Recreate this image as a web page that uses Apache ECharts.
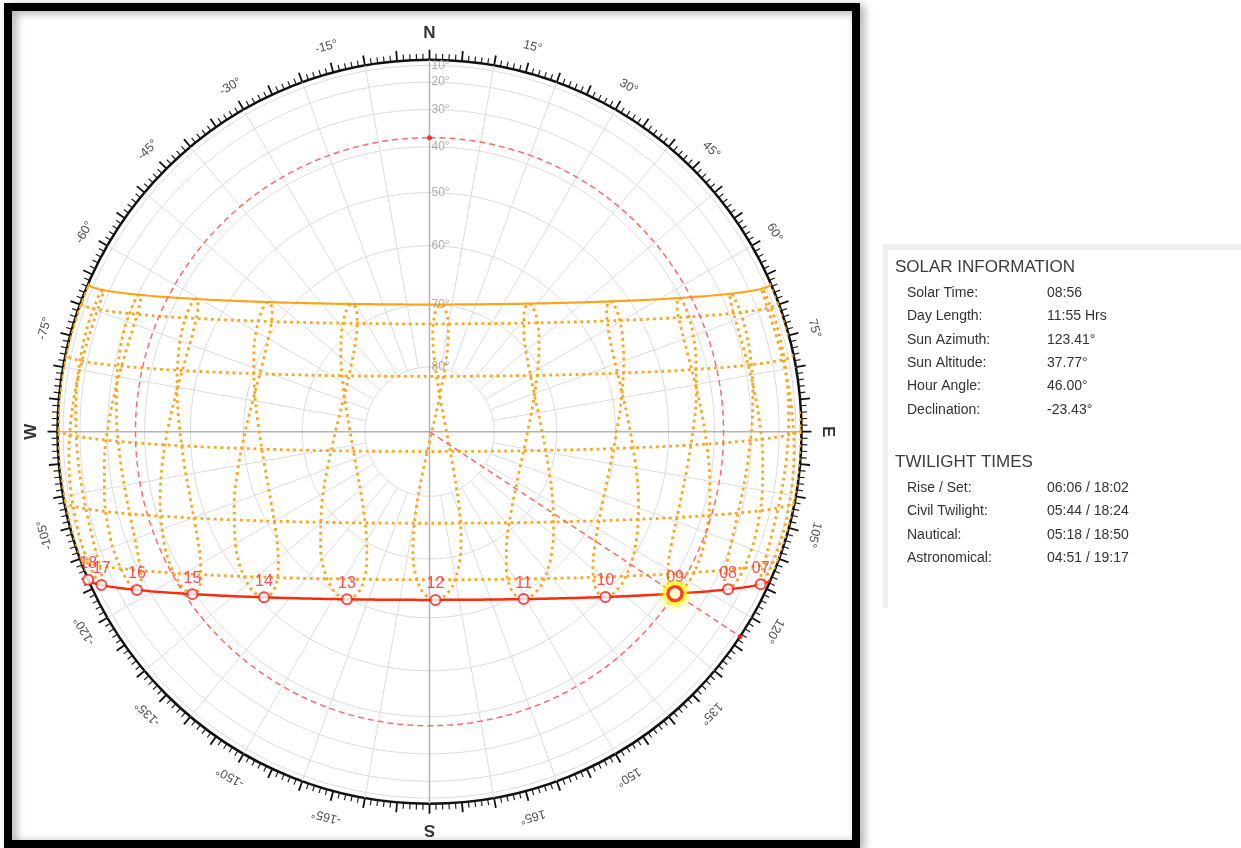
<!DOCTYPE html>
<html>
<head>
<meta charset="utf-8">
<script src="https://cdn.jsdelivr.net/npm/echarts@6/dist/echarts.min.js"></script>
<style>
  html, body { margin: 0; padding: 0; background: #fff; }
  #chart { width: 1241px; height: 848px; }
</style>
</head>
<body>
<div id="chart"></div>
<script>
// ---- Site and moment ----
const latitude = 3.45;              // degrees north
const todayDecl = -23.43;           // declination today
const clockToSolarMin = -4;         // solar time = clock time - 4 min today
const longitudeCorrMin = -5.8;      // clock -> mean solar correction (min)
const sunAzimuth = 123.41;
const sunAltitude = 37.77;

// ---- Hour markers on today's path ----
const hourMarks  = [7, 8, 9, 10, 11, 12, 13, 14, 15, 16, 17, 18];
const hourLabels = ['07', '08', '09', '10', '11', '12', '13', '14', '15', '16', '17', '18'];

// ---- Seasonal day paths ----
const solsticeDecl = 23.44;                       // solid orange path
const monthDecl = [20.3, 12.0, 0.4, -10.8, -20.0]; // dotted month paths

// ---- Analemma (hourly) lines: declination and equation of time over the year ----
const analemmaHours = [6, 7, 8, 9, 10, 11, 12, 13, 14, 15, 16, 17, 18];
const analemmaDates = ['01-01', '01-15', '02-01', '02-11', '02-15', '03-01', '03-15', '04-01', '04-15',
  '05-01', '05-14', '06-01', '06-13', '06-21', '07-01', '07-15', '07-26', '08-01', '08-15',
  '09-01', '09-15', '10-01', '10-15', '11-03', '11-15', '12-01', '12-15', '12-21'];
const analemmaDecl = [-23.0, -21.2, -17.2, -14.1, -12.7, -7.8, -2.4, 4.4, 9.7,
  15.0, 18.7, 22.0, 23.2, 23.44, 23.1, 21.6, 19.5, 18.0, 14.0,
  8.4, 3.1, -3.1, -8.5, -15.1, -18.5, -21.8, -23.3, -23.44];
const analemmaEoT = [-3.3, -9.2, -13.5, -14.2, -14.1, -12.4, -9.0, -4.0, -0.1,
  2.9, 3.7, 2.2, 0.0, -1.6, -3.8, -5.9, -6.5, -6.3, -4.4,
  -0.1, 4.7, 10.2, 14.1, 16.4, 15.4, 11.0, 4.9, 1.9];

// ---- Grid ----
const altitudeRings = [10, 20, 30, 40, 50, 60, 70, 80];
const ringLabels = ['10°', '20°', '30°', '40°', '50°', '60°', '70°', '80°'];
const spokeAngles = [10, 20, 30, 40, 50, 60, 70, 80, 100, 110, 120, 130, 140, 150, 160, 170,
  190, 200, 210, 220, 230, 240, 250, 260, 280, 290, 300, 310, 320, 330, 340, 350];
const azimuthLabels = [15, 30, 45, 60, 75, 105, 120, 135, 150, 165,
  -15, -30, -45, -60, -75, -105, -120, -135, -150, -165];
const cardinalAngles = [0, 90, 180, -90];
const cardinalLabels = ['N', 'E', 'S', 'W'];

// ---- Info panel ----
const solarInfo = [
  ['Solar Time:', '08:56'],
  ['Day Length:', '11:55 Hrs'],
  ['Sun Azimuth:', '123.41°'],
  ['Sun Altitude:', '37.77°'],
  ['Hour Angle:', '46.00°'],
  ['Declination:', '-23.43°']
];
const twilightInfo = [
  ['Rise / Set:', '06:06 / 18:02'],
  ['Civil Twilight:', '05:44 / 18:24'],
  ['Nautical:', '05:18 / 18:50'],
  ['Astronomical:', '04:51 / 19:17']
];

// ---------------------------------------------------------------
const D = Math.PI / 180;
const HORIZON = -0.833;
const FONT = '"Liberation Sans", Arial, sans-serif';

// hour angle + declination -> [radius (cos alt), azimuth from north, altitude]
function horizontal(H, dec) {
  const p = latitude * D, d = dec * D, h = H * D;
  const sinAlt = Math.sin(p) * Math.sin(d) + Math.cos(p) * Math.cos(d) * Math.cos(h);
  const alt = Math.asin(sinAlt);
  const y = -Math.cos(d) * Math.sin(h);
  const x = Math.sin(d) * Math.cos(p) - Math.cos(d) * Math.sin(p) * Math.cos(h);
  let az = Math.atan2(y, x) / D;
  if (az < 0) az += 360;
  return [Math.cos(alt), az, alt / D];
}
const altAz = (alt, az) => [Math.cos(alt * D), (az + 360) % 360];

function segments(points) {
  const out = [];
  let cur = [];
  points.forEach(p => {
    if (p[2] >= HORIZON) cur.push([p[0], p[1]]);
    else if (cur.length) { out.push(cur); cur = []; }
  });
  if (cur.length) out.push(cur);
  return out;
}

function line(data, style, z, extra) {
  return Object.assign({
    type: 'line', coordinateSystem: 'polar', data, symbol: 'none',
    silent: true, animation: false, clip: false, lineStyle: style, z
  }, extra || {});
}

const series = [];

// altitude rings
const gridStyle = { color: '#dcdcdc', width: 1 };
altitudeRings.forEach(a => {
  const pts = [];
  for (let t = 0; t <= 360; t += 2) pts.push(altAz(a, t));
  series.push(line(pts, gridStyle, 1));
});
// azimuth spokes
spokeAngles.forEach(a => {
  series.push(line([altAz(80, a), altAz(0, a)], gridStyle, 1));
});
// main N-S / E-W axes
const axisStyle = { color: '#b5b5b5', width: 1.5 };
series.push(line([altAz(0, 0), altAz(90, 0), altAz(0, 180)], axisStyle, 1));
series.push(line([altAz(0, 90), altAz(90, 90), altAz(0, 270)], axisStyle, 1));

// dotted month paths
const dotStyle = { color: '#ffa51f', width: 2.8, type: [2.8, 3.8] };
function dayPath(dec) {
  const pts = [];
  for (let H = -110; H <= 110; H += 0.5) pts.push(horizontal(H, dec));
  return segments(pts);
}
monthDecl.forEach(dec => {
  dayPath(dec).forEach(seg => series.push(line(seg, dotStyle, 3)));
});

// analemma loops, one per clock hour
analemmaHours.forEach(hr => {
  const pts = analemmaDecl.map((dec, i) => {
    const H = (hr - 12 + (analemmaEoT[i] + longitudeCorrMin) / 60) * 15;
    return horizontal(H, dec);
  });
  pts.push(pts[0]);
  segments(pts).forEach(seg => series.push(line(seg, dotStyle, 3, { smooth: 0.35 })));
});

// solstice path (solid orange)
dayPath(solsticeDecl).forEach(seg =>
  series.push(line(seg, { color: '#ffa31a', width: 2.2 }, 4)));

// current-altitude dashed circle and azimuth ray
const dashStyle = { color: '#ff6b6b', width: 1.5, type: [6, 4] };
{
  const pts = [];
  for (let t = 0; t <= 360; t += 2) pts.push(altAz(sunAltitude, t));
  series.push(line(pts, dashStyle, 5));
  series.push(line([altAz(90, sunAzimuth), altAz(0, sunAzimuth)], dashStyle, 5));
}

// today's path (solid red)
dayPath(todayDecl).forEach(seg =>
  series.push(line(seg, { color: '#ff2a0a', width: 2.5 }, 6)));

// small red dots on the dashed guides
series.push({
  type: 'scatter', coordinateSystem: 'polar', silent: true, animation: false, clip: false, z: 7,
  symbolSize: 5, itemStyle: { color: '#ee1111' },
  data: [altAz(sunAltitude, 0), altAz(0, sunAzimuth)]
});

// hour markers
series.push({
  type: 'scatter', coordinateSystem: 'polar', silent: true, animation: false, clip: false, z: 8,
  symbol: 'circle', symbolSize: 10,
  itemStyle: { color: '#ffffff', borderColor: '#ff1a1a', borderWidth: 2 },
  label: { show: true, position: 'top', distance: 2, formatter: '{b}', color: '#ff1f2f',
           fontSize: 16, fontFamily: FONT },
  data: hourMarks.map((t, i) => {
    const H = (t - 12 + clockToSolarMin / 60) * 15;
    const p = horizontal(H, todayDecl);
    return p[2] >= HORIZON ? { name: hourLabels[i], value: [p[0], p[1]] } : null;
  }).filter(Boolean)
});

// sun position with glow
series.push({
  type: 'scatter', coordinateSystem: 'polar', silent: true, animation: false, clip: false, z: 9,
  symbolSize: 24,
  itemStyle: { color: 'rgba(255,255,30,0.9)', shadowColor: 'rgba(255,255,0,1)', shadowBlur: 10 },
  data: [altAz(sunAltitude, sunAzimuth)]
});
series.push({
  type: 'scatter', coordinateSystem: 'polar', silent: true, animation: false, clip: false, z: 10,
  symbolSize: 14,
  itemStyle: { color: '#ffffff', borderColor: '#ff1010', borderWidth: 3.4 },
  data: [altAz(sunAltitude, sunAzimuth)]
});

// altitude ring labels
series.push({
  type: 'scatter', coordinateSystem: 'polar', silent: true, animation: false, clip: false, z: 11,
  symbolSize: 0,
  label: { show: true, position: 'right', distance: 2, formatter: '{b}', color: '#999',
           fontSize: 12, fontFamily: FONT },
  data: altitudeRings.map((a, i) => ({ name: ringLabels[i], value: altAz(a, 0) }))
});

// azimuth degree labels round the rim
const LABEL_R = 1.071;
series.push({
  type: 'scatter', coordinateSystem: 'polar', silent: true, animation: false, clip: false, z: 11,
  symbolSize: 0,
  label: { show: true, position: 'inside', formatter: '{b}', color: '#222',
           fontSize: 12.5, fontFamily: FONT },
  data: azimuthLabels.map(a => ({
    name: a + '°', value: [LABEL_R, (a + 360) % 360], label: { rotate: -a }
  }))
});
// cardinal letters
series.push({
  type: 'scatter', coordinateSystem: 'polar', silent: true, animation: false, clip: false, z: 11,
  symbolSize: 0,
  label: { show: true, position: 'inside', formatter: '{b}', color: '#000',
           fontSize: 17, fontWeight: 'bold', fontFamily: FONT },
  data: cardinalAngles.map((a, i) => ({
    name: cardinalLabels[i], value: [LABEL_R, (a + 360) % 360], label: { rotate: -a }
  }))
});

// ---- frame and info panel ----
const graphics = [
  { type: 'rect', z: -10, silent: true,
    shape: { x: 8, y: 7, width: 848, height: 837 },
    style: { fill: null, stroke: '#000', lineWidth: 8,
             shadowBlur: 8, shadowColor: 'rgba(0,0,0,0.35)', shadowOffsetX: 4, shadowOffsetY: 2 } },
  { type: 'rect', silent: true, shape: { x: 883, y: 244, width: 358, height: 6 }, style: { fill: '#efefef' } },
  { type: 'rect', silent: true, shape: { x: 883, y: 244, width: 5, height: 364 }, style: { fill: '#efefef' } }
];
function addText(x, y, text, size, color) {
  graphics.push({ type: 'text', silent: true, x, y,
    style: { text, fontSize: size, fontFamily: FONT, fill: color, verticalAlign: 'middle', align: 'left' } });
}
addText(895, 267, 'SOLAR INFORMATION', 17, '#3c3c3c');
solarInfo.forEach((r, i) => {
  addText(907, 293.3 + i * 23.33, r[0], 14, '#333');
  addText(1047, 293.3 + i * 23.33, r[1], 14, '#333');
});
addText(895, 462, 'TWILIGHT TIMES', 17, '#3c3c3c');
twilightInfo.forEach((r, i) => {
  addText(907, 488.3 + i * 23.33, r[0], 14, '#333');
  addText(1047, 488.3 + i * 23.33, r[1], 14, '#333');
});

const chart = echarts.init(document.getElementById('chart'), null, { renderer: 'canvas' });
chart.setOption({
  animation: false,
  backgroundColor: '#ffffff',
  polar: { center: [429.5, 431.7], radius: 372 },
  angleAxis: {
    type: 'value', min: 0, max: 360, interval: 5, startAngle: 90, clockwise: true,
    axisLine: { show: true, lineStyle: { color: '#111', width: 2.5 } },
    axisTick: { show: true, length: 10, lineStyle: { color: '#111', width: 1.8 } },
    minorTick: { show: true, splitNumber: 5, length: 6, lineStyle: { color: '#222', width: 1.2 } },
    axisLabel: { show: false },
    splitLine: { show: false }
  },
  radiusAxis: {
    type: 'value', min: 0, max: 1,
    axisLine: { show: false }, axisTick: { show: false },
    axisLabel: { show: false }, splitLine: { show: false }
  },
  graphic: graphics,
  series
});
</script>
</body>
</html>
